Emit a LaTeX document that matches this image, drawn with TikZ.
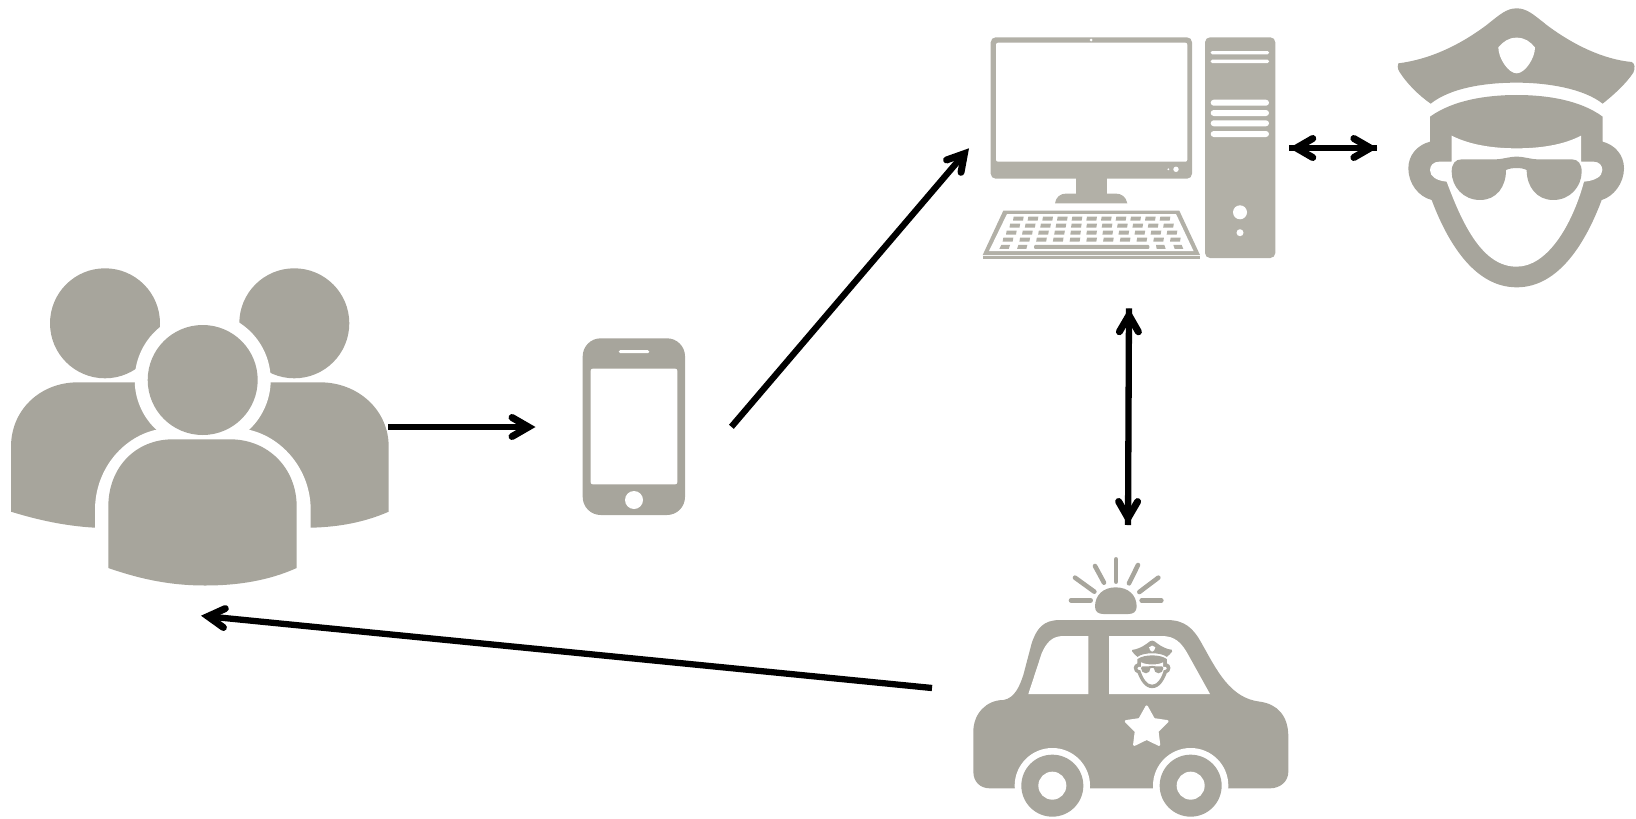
\documentclass[tikz,border=0pt]{standalone}
\usetikzlibrary{calc}
\definecolor{icongrey}{HTML}{A7A59C}
\definecolor{pcgrey}{HTML}{B2B0A7}
\tikzset{
  flowline/.style={line width=6.3pt,black,line cap=butt},
  barbstroke/.style={line width=7pt,black,line cap=round,line join=miter,miter limit=10},
  ray/.style={draw=icongrey,line width=4.6pt,line cap=round},
  third/.style={x=0.33333pt,y=-0.33333pt}
}
% barbed head at point #2 of a connector coming from point #1
\newcommand{\barbat}[2]{%
  \coordinate (barbv) at ($(#2)!7pt!(#1)$);
  \draw[barbstroke] ($(barbv)!19pt!30:(#1)$) -- (barbv) -- ($(barbv)!19pt!-30:(#1)$);
}
\newcommand{\officerglyph}{%
  \fill[icongrey] (55,190) .. controls (150,178) and (240,135) .. (320,75) .. controls (360,43) and (380,25) .. (410,25) .. controls (440,25) and (460,43) .. (500,75) .. controls (580,135) and (670,178) .. (755,186) .. controls (765,190) and (766,205) .. (760,218) .. controls (735,255) and (700,285) .. (668,311) .. controls (610,265) and (500,248) .. (410,248) .. controls (310,248) and (210,265) .. (152,311) .. controls (115,285) and (80,250) .. (58,215) .. controls (52,205) and (52,195) .. (55,190) -- cycle;
  \fill[white] (410,113) .. controls (385,113) and (370,125) .. (355,142) .. controls (355,175) and (385,220) .. (410,220) .. controls (435,220) and (465,175) .. (465,142) .. controls (450,125) and (435,113) .. (410,113) -- cycle;
  \fill[icongrey] (150,350) .. controls (220,300) and (320,285) .. (410,285) .. controls (500,285) and (600,300) .. (668,350) -- (668,425) .. controls (705,435) and (732,465) .. (732,505) .. controls (732,550) and (700,590) .. (665,600) .. controls (620,720) and (540,862) .. (410,862) .. controls (280,862) and (200,720) .. (155,600) .. controls (115,590) and (85,550) .. (85,505) .. controls (85,465) and (112,435) .. (150,425) -- cycle;
  \fill[white] (215,407) .. controls (270,435) and (340,445) .. (410,445) .. controls (480,445) and (550,435) .. (603,407) -- (603,485) -- (640,485) .. controls (658,485) and (667,497) .. (667,510) .. controls (667,530) and (645,542) .. (612,545) .. controls (575,680) and (500,800) .. (410,800) .. controls (310,800) and (250,680) .. (200,545) .. controls (170,542) and (150,530) .. (150,510) .. controls (150,497) and (160,485) .. (178,485) -- (215,485) -- cycle;
  \fill[icongrey] (245,478) -- (345,478) .. controls (370,478) and (385,470) .. (410,470) .. controls (435,470) and (450,478) .. (475,478) -- (575,478) .. controls (595,478) and (605,492) .. (605,515) .. controls (605,560) and (570,600) .. (520,600) .. controls (470,600) and (440,560) .. (440,510) .. controls (425,502) and (395,502) .. (378,510) .. controls (378,560) and (350,600) .. (300,600) .. controls (250,600) and (215,560) .. (215,515) .. controls (215,492) and (225,478) .. (245,478) -- cycle;
}
\begin{document}
\begin{tikzpicture}[x=1pt,y=-1pt]
\useasboundingbox (0,0) rectangle (1636,819);

% ---- people
\fill[icongrey] (105,323.3) circle [radius=55];
\fill[icongrey] (294.3,323.3) circle [radius=55];
\fill[icongrey] (11,511.7) -- (11,446.7) .. controls (11,410) and (40,382.3) .. (78,382.3) -- (320,382.3) .. controls (358,382.3) and (388.7,410) .. (388.7,446.7) -- (388.7,511.7) .. controls (365,522) and (340,527) .. (310.7,527.7) -- (95,527.7) .. controls (65,526) and (38,520) .. (11,511.7) -- cycle;
\fill[white] (202.7,380) circle [radius=68];
\fill[white] (95,510) .. controls (95,470) and (122,438) .. (155,430) -- (250,430) .. controls (283,438) and (310.7,470) .. (310.7,510) -- (310.7,600) -- (95,600) -- cycle;
\fill[icongrey] (202.7,380) circle [radius=55];
\fill[icongrey] (108.3,568) -- (108.3,506.7) .. controls (108.3,468) and (135,439.3) .. (173,439.3) -- (230,439.3) .. controls (268,439.3) and (296.7,468) .. (296.7,506.7) -- (296.7,568) .. controls (270,580) and (240,585.5) .. (205,585.5) .. controls (170,585.5) and (140,579) .. (108.3,568) -- cycle;

% ---- phone
\fill[icongrey,rounded corners=18pt] (582.7,338.3) rectangle (685,515);
\fill[white,rounded corners=2pt] (590.7,368.7) rectangle (677.3,484.3);
\fill[white,rounded corners=1.5pt] (618.7,350.2) rectangle (649.3,353.2);
\fill[white] (634,500) circle [radius=9];

% ---- computer
\fill[pcgrey,rounded corners=5pt] (990.7,37.3) rectangle (1192,178.7);
\fill[white,rounded corners=2pt] (996,42.7) rectangle (1187.3,161.7);
\fill[white] (1091,40) circle [radius=1.5];
\fill[white] (1176,169.3) circle [radius=2.7];
\fill[white] (1168.3,169.3) circle [radius=1];
\fill[pcgrey] (1076,178) rectangle (1106.7,194);
\fill[pcgrey] (1055,203.3) .. controls (1056,197) and (1060,193.5) .. (1067,193.5) -- (1115,193.5) .. controls (1122,193.5) and (1126,197) .. (1127.3,203.3) -- cycle;
\fill[pcgrey] (1003.3,210.7) -- (1179.3,210.7) -- (1200,255) -- (982.7,255) -- cycle;
\fill[white] (1007,214) -- (1176,214) -- (1193.5,251) -- (989,251) -- cycle;
\fill[pcgrey] (982.7,256.3) rectangle (1200.3,259);
\begin{scope}[shift={(960pt,-20pt)},third]
  \foreach \ry/\first in {596/175,617/164.5,638/154,659/144}{
    \foreach \k in {0,...,10}{
      \pgfmathsetmacro{\cx}{\first+\k*(440+2*(175-\first))/10}
      \fill[pcgrey] ({\cx-14},\ry-6) -- ({\cx+16},\ry-6) -- ({\cx+14},\ry+6) -- ({\cx-16},\ry+6) -- cycle;
    }
  }
  \fill[pcgrey] (124,675) -- (150,675) -- (146,687) -- (118,687) -- cycle;
  \fill[pcgrey] (175,675) -- (202,675) -- (199,687) -- (171,687) -- cycle;
  \fill[pcgrey,rounded corners=1pt] (222,675) rectangle (568,687);
  \fill[pcgrey] (588,675) -- (613,675) -- (617,687) -- (590,687) -- cycle;
  \fill[pcgrey] (640,675) -- (665,675) -- (670,687) -- (644,687) -- cycle;
\end{scope}
\fill[pcgrey,rounded corners=5pt] (1205,37.3) rectangle (1275.3,258);
\foreach \sy in {52.7,61.3}{\fill[white,rounded corners=1.5pt] (1210.7,\sy-1.7) rectangle (1269,\sy+1.7);}
\foreach \sy in {102.7,113,123.3,134}{\fill[white,rounded corners=3pt] (1210.7,\sy-3) rectangle (1269,\sy+3);}
\fill[white] (1240,212.3) circle [radius=7];
\fill[white] (1240,232.7) circle [radius=3.5];

% ---- officer
\begin{scope}[shift={(1380pt,0pt)},third]
  \officerglyph
\end{scope}

% ---- car
\begin{scope}[shift={(960pt,-550pt)},third]
  \fill[icongrey] (40,545) .. controls (40,490) and (80,450) .. (130,450) .. controls (165,445) and (180,405) .. (190,375) -- (215,280) .. controls (230,235) and (250,210) .. (300,210) -- (620,210) .. controls (675,210) and (700,235) .. (725,280) .. controls (770,360) and (810,445) .. (900,455) .. controls (950,462) and (985,495) .. (985,560) -- (985,665) .. controls (985,695) and (960,715) .. (930,715) -- (90,715) .. controls (60,715) and (40,695) .. (40,665) -- cycle;
  \foreach \wx in {277,692}{
    \fill[white] (\wx,707) circle [radius=113];
    \fill[white] (\wx-113,707) rectangle (\wx+113,820);
    \fill[icongrey] (\wx,707) circle [radius=93];
    \fill[white] (\wx,707) circle [radius=42];
  }
  \fill[white] (205,432) -- (385,432) -- (385,258) -- (310,258) .. controls (275,258) and (258,280) .. (245,310) -- cycle;
  \fill[white] (447,432) -- (750,432) -- (685,315) .. controls (665,278) and (645,258) .. (605,258) -- (447,258) -- cycle;
  \filldraw[white,line width=2.5pt,line join=round] (560,470) -- (581.2,508) -- (622,514) -- (592,544.1) -- (597,584) -- (560,566) -- (523,584) -- (528,544.1) -- (498,514) -- (538.8,508) -- cycle;
  \fill[icongrey] (405,170) .. controls (405,135) and (430,112) .. (467,112) .. controls (505,112) and (530,135) .. (530,170) .. controls (530,185) and (520,192) .. (505,192) -- (430,192) .. controls (415,192) and (405,185) .. (405,170) -- cycle;
  \draw[ray] (333,151) -- (392,151);
  \draw[ray] (345,83) -- (403,125);
  \draw[ray] (405,48) -- (432,98);
  \draw[ray] (468,28) -- (468,95);
  \draw[ray] (534,45) -- (507,100);
  \draw[ray] (595,83) -- (538,126);
  \draw[ray] (545,151) -- (604,151);
\end{scope}
\begin{scope}[shift={(1128.9pt,-639.2pt)},x=0.0568pt,y=-0.0568pt]
  \officerglyph
\end{scope}

% ---- connectors
\coordinate (peopleOut) at (388,427);
\coordinate (phoneIn) at (535.5,427);
\coordinate (phoneOut) at (731.4,426.8);
\coordinate (pcIn) at (969,148.3);
\coordinate (pcRight) at (1289.3,148);
\coordinate (officerLeft) at (1377.3,148);
\coordinate (pcBelow) at (1129,308.3);
\coordinate (carAbove) at (1128,525);
\coordinate (carOut) at (932,688);
\coordinate (peopleIn) at (201,615.7);
\draw[flowline,shorten >=7pt] (peopleOut) -- (phoneIn);
\barbat{peopleOut}{phoneIn}
\draw[flowline,shorten >=7pt] (phoneOut) -- (pcIn);
\barbat{phoneOut}{pcIn}
\draw[flowline] (pcRight) -- (officerLeft);
\barbat{officerLeft}{pcRight}
\barbat{pcRight}{officerLeft}
\draw[flowline] (pcBelow) -- (carAbove);
\barbat{carAbove}{pcBelow}
\barbat{pcBelow}{carAbove}
\draw[flowline,shorten >=7pt] (carOut) -- (peopleIn);
\barbat{carOut}{peopleIn}
\end{tikzpicture}
\end{document}
